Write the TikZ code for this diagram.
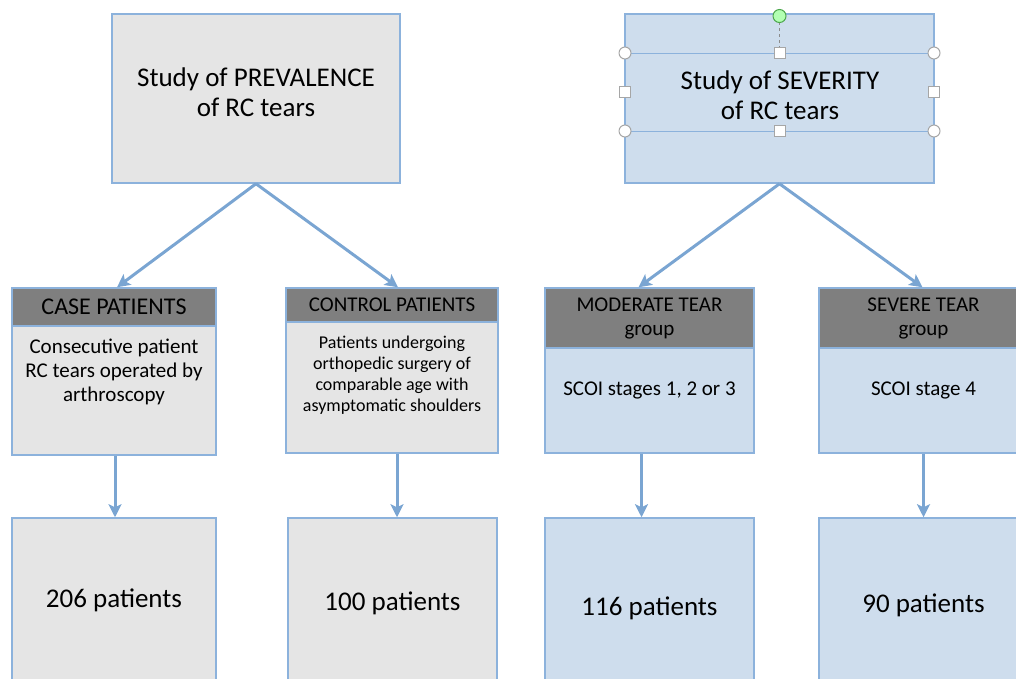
\documentclass[tikz,border=0pt]{standalone}
\usepackage{fontspec}
\setmainfont{Carlito}
\usepackage{tikz}
\usetikzlibrary{arrows.meta,positioning}
\definecolor{linkblue}{RGB}{122,165,210}
\definecolor{frameblue}{RGB}{140,178,220}
\definecolor{greyfill}{RGB}{229,229,229}
\definecolor{bluefill}{RGB}{206,221,237}
\definecolor{headfill}{RGB}{127,127,127}
\tikzset{
  gbox/.style={rectangle, draw=frameblue, line width=1.5pt, fill=greyfill,
               inner sep=0pt, align=center},
  bbox/.style={gbox, fill=bluefill},
  hbar/.style={rectangle, draw=frameblue, line width=1.5pt, fill=headfill,
               inner sep=0pt, align=center, font=\fontsize{21}{24}\selectfont},
  ttl/.style={align=center, font=\fontsize{27}{30}\selectfont},         % study titles
  body/.style={align=center, font=\fontsize{21}{24}\selectfont},
  cnt/.style={font=\fontsize{27}{30}\selectfont},                       % patient counts
  link/.style={draw=linkblue, line width=3pt,
               -{Stealth[length=13pt,width=13pt,inset=3pt]}},
  handle/.style={draw=black!35, fill=white, line width=1pt, inner sep=0pt},
}

\begin{document}
\begin{tikzpicture}[x=1pt,y=-1pt]
  \useasboundingbox (0,0) rectangle (1016,678);
  \clip (0,0) rectangle (1016,678);
  % top row
  \node[gbox, minimum width=288pt, minimum height=169pt] (prev) at (256,98.5) {};
  \node[ttl] at (256,92) {Study of PREVALENCE\\of RC tears};
  \node[bbox, minimum width=309pt, minimum height=169pt] (sev) at (779.5,98.5) {};
  \node[ttl] at (780,95) {Study of SEVERITY\\of RC tears};
  % selection handles on the severity box
  \draw[frameblue, line width=0.8pt] (625,53) -- (934,53) (625,131) -- (934,131);
  \draw[black!45, dashed, line width=1pt] (779.5,22) -- (779.5,47);
  \node[circle, draw=green!50!black!70, fill=green!30, line width=1pt,
        minimum size=13pt, inner sep=0pt] at (779.5,16) {};
  \foreach \p in {(625,53),(934,53),(625,131),(934,131)}
    \node[handle, circle, minimum size=12pt] at \p {};
  \foreach \p in {(780,53),(780,131),(625,92),(934,92)}
    \node[handle, minimum size=11pt] at \p {};

  % group boxes
  \node[gbox, minimum width=204pt, minimum height=167pt] (case) at (114,371.5) {};
  \node[hbar, font=\fontsize{24}{26}\selectfont, minimum width=204pt,
        minimum height=38pt, anchor=north] (caseh) at (case.north) {CASE PATIENTS};
  \node[body] at (114,372) {Consecutive patient\\RC tears operated by\\arthroscopy};

  \node[gbox, minimum width=212pt, minimum height=165pt] (ctrl) at (392,370.5) {};
  \node[hbar, minimum width=212pt, minimum height=34pt, anchor=north] (ctrlh)
    at (ctrl.north) {CONTROL PATIENTS};
  \node[body, font=\fontsize{18}{21}\selectfont] at (392,375)
    {Patients undergoing\\orthopedic surgery of\\comparable age with\\asymptomatic shoulders};

  \node[bbox, minimum width=209pt, minimum height=165pt] (mod) at (649.5,370.5) {};
  \node[hbar, minimum width=209pt, minimum height=60pt, anchor=north] (modh)
    at (mod.north) {MODERATE TEAR\\group};
  \node[body] at (649.5,390) {SCOI stages 1, 2 or 3};

  \node[bbox, minimum width=209pt, minimum height=165pt] (sevg) at (923.5,370.5) {};
  \node[hbar, minimum width=209pt, minimum height=60pt, anchor=north] (sevgh)
    at (sevg.north) {SEVERE TEAR\\group};
  \node[body] at (923.5,390) {SCOI stage 4};

  % patient counts
  \node[gbox, cnt, minimum width=204pt, minimum height=164pt] (n206) at (114,600) {206 patients};
  \node[gbox, cnt, minimum width=209pt, minimum height=170pt] (n100) at (392.5,603) {100 patients};
  \node[bbox, cnt, minimum width=209pt, minimum height=180pt] (n116) at (649.5,608) {116 patients};
  \node[bbox, cnt, minimum width=209pt, minimum height=174pt] (n90) at (923.5,605) {90 patients};

  % links
  \draw[link] (prev.south) -- ([xshift=3pt]case.north);
  \draw[link] (prev.south) -- ([xshift=6pt]ctrl.north);
  \draw[link] (sev.south) -- ([xshift=-11pt]mod.north);
  \draw[link] (sev.south) -- ([xshift=-1pt]sevg.north);
  \draw[link] ([xshift=1pt]case.south) -- ([xshift=1pt]n206.north);
  \draw[link] ([xshift=5pt]ctrl.south) -- ([xshift=4.5pt]n100.north);
  \draw[link] ([xshift=-8pt]mod.south) -- ([xshift=-8pt]n116.north);
  \draw[link] (sevg.south) -- (n90.north);
\end{tikzpicture}
\end{document}
